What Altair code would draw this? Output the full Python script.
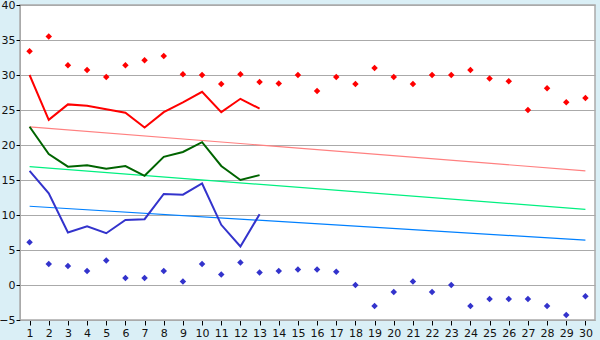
import altair as alt
import pandas as pd

days = list(range(1, 31))
rec_max = [33.4, 35.5, 31.4, 30.7, 29.7, 31.4, 32.1, 32.7, 30.1, 30.0,
           28.7, 30.1, 29.0, 28.8, 30.0, 27.7, 29.7, 28.7, 31.0, 29.7,
           28.7, 30.0, 30.0, 30.7, 29.5, 29.1, 25.0, 28.1, 26.1, 26.7]
rec_min = [6.1, 3.0, 2.7, 2.0, 3.5, 1.0, 1.0, 2.0, 0.5, 3.0,
           1.5, 3.2, 1.8, 2.0, 2.2, 2.2, 1.9, 0.0, -3.0, -1.0,
           0.5, -1.0, 0.0, -3.0, -2.0, -2.0, -2.0, -3.0, -4.3, -1.6]
obs_days = list(range(1, 14))
obs_max = [30.0, 23.6, 25.8, 25.6, 25.1, 24.6, 22.5, 24.7, 26.1, 27.6, 24.7, 26.6, 25.2]
obs_mean = [22.6, 18.7, 16.9, 17.1, 16.6, 17.0, 15.6, 18.3, 19.0, 20.4, 17.0, 15.0, 15.7]
obs_min = [16.3, 13.1, 7.5, 8.4, 7.4, 9.3, 9.4, 13.0, 12.9, 14.5, 8.6, 5.5, 10.1]
trend_days = [1, 30]
trend_max = [22.6, 16.3]
trend_mean = [16.9, 10.8]
trend_min = [11.25, 6.4]

xs = alt.Scale(domain=[0.5, 30.5], nice=False, zero=False)
ys = alt.Scale(domain=[-5, 40], nice=False, zero=False)
xax = alt.Axis(values=days, title=None, grid=False, labelFontSize=11, labelColor="#111",
               tickColor="#000", tickSize=5, domainColor="#aaa", labelPadding=2,
               labelFont="DejaVu Sans")
yax = alt.Axis(values=list(range(-5, 41, 5)), title=None, grid=True, gridColor="#aaa",
               labelFontSize=11, labelColor="#111", tickColor="#000", tickSize=4,
               domainColor="#aaa", labelPadding=1, labelFont="DejaVu Sans")

def line(xv, yv, color, width):
    df = pd.DataFrame({"x": xv, "y": yv})
    return alt.Chart(df).mark_line(color=color, strokeWidth=width).encode(
        x=alt.X("x:Q", scale=xs, axis=xax), y=alt.Y("y:Q", scale=ys, axis=yax))

def pts(xv, yv, color):
    df = pd.DataFrame({"x": xv, "y": yv})
    return alt.Chart(df).mark_point(shape="diamond", filled=True, size=42, color=color, opacity=1).encode(
        x=alt.X("x:Q", scale=xs, axis=xax), y=alt.Y("y:Q", scale=ys, axis=yax))

chart = alt.layer(
    line(trend_days, trend_max, "#FF8080", 1.2),
    line(trend_days, trend_mean, "#00F080", 1.2),
    line(trend_days, trend_min, "#0080FF", 1.2),
    line(obs_days, obs_max, "#FF0000", 2),
    line(obs_days, obs_mean, "#006400", 2),
    line(obs_days, obs_min, "#3333CC", 2),
    pts(days, rec_max, "#FF0000"),
    pts(days, rec_min, "#3333CC"),
).properties(
    width=575, height=315,
    autosize=alt.AutoSizeParams(type="none"),
    padding={"left": 20, "top": 5, "right": 5, "bottom": 20},
    background="#DAEFF6",
).configure_view(fill="white", stroke="#aaa", strokeWidth=1.5)

chart.save("out.html", embed_options={"renderer": "svg", "actions": False})
